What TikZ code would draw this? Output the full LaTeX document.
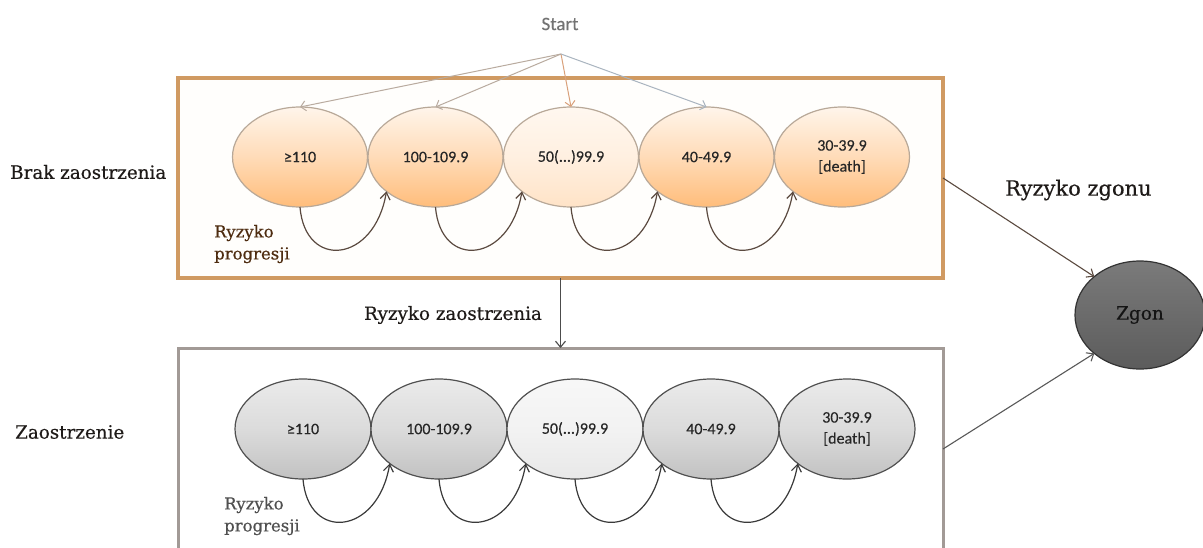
\documentclass[tikz,border=0pt]{standalone}
\usepackage{fontspec}
\setmainfont{DejaVu Serif}[FakeBold=0.4]
\newfontfamily\carl{Carlito}[FakeBold=0.3]
\usetikzlibrary{shapes.geometric,arrows.meta}
\definecolor{topbord}{HTML}{D09A62}
\definecolor{botbord}{HTML}{A29A96}
\definecolor{ellbordT}{HTML}{B8A898}
\definecolor{ellbordB}{HTML}{505050}
\definecolor{loopT}{HTML}{5B4A40}
\definecolor{loopB}{HTML}{3A3A3A}
\definecolor{startc}{HTML}{B9AB9F}
\definecolor{startor}{HTML}{D9A07A}
\definecolor{startbl}{HTML}{A9B4BF}
\definecolor{labc}{HTML}{1E1A18}
\definecolor{progT}{HTML}{4E2C10}
\definecolor{progB}{HTML}{505050}
\tikzset{
  bigbox/.style={draw, rectangle, inner sep=0pt, outer sep=0pt},
  stateT/.style={ellipse, draw=ellbordT, line width=1.2pt, inner sep=0pt, outer sep=0pt,
    minimum width=135pt, minimum height=100pt, top color=orange!8!white, bottom color=orange!52!white,
    middle color=orange!28!white, text=black!85, font=\carl\fontsize{16}{19}\selectfont, align=center},
  stateTl/.style={stateT, top color=orange!6!white, bottom color=orange!22!white, middle color=orange!12!white},
  stateB/.style={ellipse, draw=ellbordB, line width=1.2pt, inner sep=0pt, outer sep=0pt,
    minimum width=136pt, minimum height=100pt, top color=black!8, bottom color=black!24,
    middle color=black!14, text=black!85, font=\carl\fontsize{16}{19}\selectfont, align=center},
  stateBl/.style={stateB, top color=black!3, bottom color=black!9, middle color=black!5},
  lab/.style={font=\fontsize{18.3}{22}\selectfont, text=labc, inner sep=0pt},
  prog/.style={font=\fontsize{16.5}{22}\selectfont, align=left, inner sep=0pt},
  startarr/.style={line width=1pt, -{Straight Barb[length=5pt,width=10pt]}},
  looparr/.style={line width=1.2pt, -{Straight Barb[length=7pt,width=10pt]}},
  darr/.style={line width=1.1pt, -{Straight Barb[length=6pt,width=10pt]}}
}
\begin{document}
\begin{tikzpicture}[x=1pt,y=-1pt]
\useasboundingbox (0,0) rectangle (1203,547);
\clip (0,0) rectangle (1203,547);
\fill[white] (0,0) rectangle (1203,547);

% boxes
\node[bigbox, draw=topbord, line width=3.5pt, fill=orange!1!white, minimum width=765pt, minimum height=200pt] (topbox) at (560.5,178) {};
\node[bigbox, draw=botbord, line width=3pt, fill=white, minimum width=765pt, minimum height=202pt] (botbox) at (560.5,449) {};

% start
\node[font=\carl\fontsize{19}{22}\selectfont, text=black!55, inner sep=0pt] (start) at (560,24) {Start};
\coordinate (s) at (561,54);

% top row
\node[stateT] (t1) at (300,157) {≥110};
\node[stateT] (t2) at (435.5,157) {100-109.9};
\node[stateTl] (t3) at (571,157) {50(...)99.9};
\node[stateT] (t4) at (706.5,157) {40-49.9};
\node[stateT] (t5) at (842,157) {30-39.9\\[2pt][death]};

% bottom row
\node[stateB] (b1) at (303,429) {≥110};
\node[stateB] (b2) at (439,429) {100-109.9};
\node[stateBl] (b3) at (575,429) {50(...)99.9};
\node[stateB] (b4) at (711,429) {40-49.9};
\node[stateB] (b5) at (847,429) {30-39.9\\[2pt][death]};

% Zgon
\node[ellipse, draw=black!80, line width=1.2pt, top color=black!52, bottom color=black!64, middle color=black!58,
  minimum width=130pt, minimum height=108pt, inner sep=0pt, outer sep=0pt,
  font=\fontsize{18.5}{21}\selectfont, text=black!92] (z) at (1140,315) {Zgon};

% start arrows
\draw[startarr, draw=startc] (s) -- (t1.north);
\draw[startarr, draw=startc] (s) -- (t2.north);
\draw[startarr, draw=startor] (s) -- (t3.north);
\draw[startarr, draw=startbl] (s) -- (t4.north);

% progression loops
\foreach \a/\b in {t1/t2,t2/t3,t3/t4,t4/t5}{
  \draw[looparr, draw=loopT] (\a.south) .. controls +(5,63) and +(-12,72) .. (\b.-145);
}
\foreach \a/\b in {b1/b2,b2/b3,b3/b4,b4/b5}{
  \draw[looparr, draw=loopB] (\a.south) .. controls +(5,63) and +(-12,72) .. (\b.-145);
}

% transitions
\draw[darr, draw=black!70] (topbox.south) -- (botbox.north);
\draw[darr, draw=loopT] (topbox.east) -- (z.140);
\draw[darr, draw=black!65] (botbox.east) -- (z.-140);

% labels
\node[lab, anchor=west] (lbrak) at (10,172) {Brak zaostrzenia};
\node[lab, anchor=west] (lzaos) at (15,432) {Zaostrzenie};
\node[lab] (lrz) at (453,315) {Ryzyko zaostrzenia};
\node[lab, anchor=west, font=\fontsize{21}{24}\selectfont] (lrzg) at (1005,190) {Ryzyko zgonu};
\node[prog, text=progT, anchor=west] (pT) at (214,244) {Ryzyko\\progresji};
\node[prog, text=progB, anchor=west] (pB) at (224,516) {Ryzyko\\progresji};
\end{tikzpicture}
\end{document}
